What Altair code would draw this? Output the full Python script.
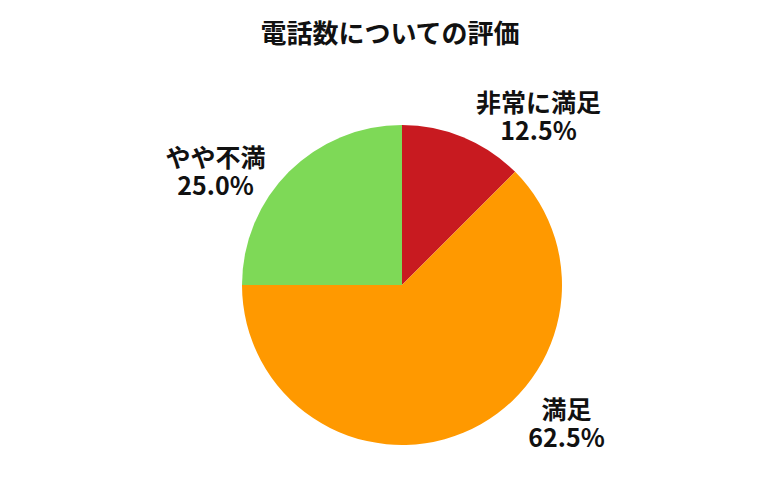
import math
import altair as alt
import pandas as pd

categories = ["非常に満足", "満足", "やや不満"]
values = [12.5, 62.5, 25.0]
colors = ["#C81A20", "#FF9900", "#7ED957"]
title_text = "電話数についての評価"

df = pd.DataFrame({"cat": categories, "val": values, "idx": list(range(len(categories)))})

FONT = "Noto Sans CJK JP"
CX, CY = 394, 227  # pie centre inside plot area
R = 160

base = alt.Chart(df).transform_window(
    cum="sum(val)", sort=[alt.SortField("idx", order="ascending")]
).transform_calculate(
    mid="datum.cum - datum.val / 2",
    label="[datum.cat, format(datum.val, '.1f') + '%']",
)

pie = alt.Chart(df).mark_arc(outerRadius=R, stroke=None).encode(
    theta=alt.Theta("val:Q", stack=True),
    order=alt.Order("idx:Q", sort="ascending"),
    color=alt.Color("cat:N", scale=alt.Scale(domain=categories, range=colors), legend=None),
    x=alt.value(CX),
    y=alt.value(CY),
)

offsets = {"非常に満足": (60, 4), "満足": (88, -59), "やや不満": (-45, 15)}

layers = [pie]
for c in categories:
    dx, dy = offsets[c]
    t = base.transform_filter(alt.datum.cat == c).mark_text(
        radius=200, font=FONT, fontSize=25, fontWeight="bold", color="#111111",
        align="center", baseline="middle", lineHeight=28, dx=dx, dy=dy,
    ).encode(
        theta=alt.Theta("mid:Q", scale=alt.Scale(domain=[0, 100], range=[0, 2 * math.pi])),
        text="label:N",
        x=alt.value(CX),
        y=alt.value(CY),
    )
    layers.append(t)

chart = alt.layer(*layers).properties(
    width=764, height=434,
    autosize=alt.AutoSizeParams(type="none"),
    padding={"top": 50, "left": 0, "right": 0, "bottom": 0},
    title=alt.TitleParams(title_text, font=FONT, fontSize=26, fontWeight="bold",
                          color="#111111", anchor="middle", offset=10),
).configure_view(stroke=None)

chart.save("out.html", embed_options={"renderer": "svg", "actions": False})
